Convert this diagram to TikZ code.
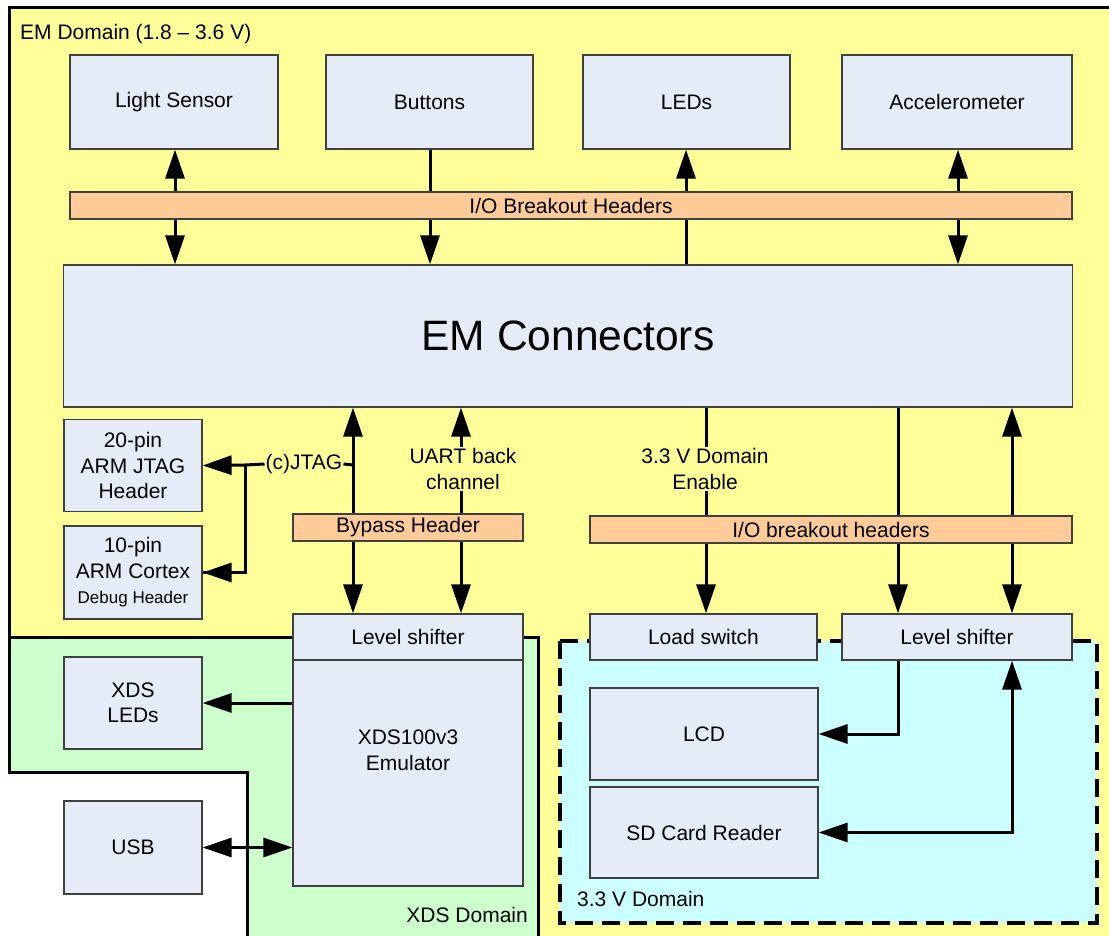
\documentclass[tikz,border=0pt]{standalone}
\usepackage{fontspec}
\setmainfont{Liberation Sans}
\usetikzlibrary{arrows.meta}

\definecolor{emyellow}{HTML}{FFFF99}
\definecolor{xdsgreen}{HTML}{CCFFCC}
\definecolor{vcyan}{HTML}{CCFFFF}
\definecolor{boxfill}{HTML}{E6ECF7}
\definecolor{hdrfill}{HTML}{FFCC99}
\definecolor{boxline}{HTML}{404040}

\tikzset{
  blk/.style={draw=boxline, fill=boxfill, line width=1.2pt, inner sep=0pt,
    align=center, font=\fontsize{21}{25.5}\selectfont},
  hdr/.style={blk, fill=hdrfill},
  lbl/.style={inner sep=1pt, align=center, font=\fontsize{21}{26}\selectfont},
  wire/.style={line width=3pt},
  arr/.style={wire, -{Triangle[length=29pt,width=19pt]}},
  darr/.style={wire, {Triangle[length=29pt,width=19pt]}-{Triangle[length=29pt,width=19pt]}},
  domline/.style={line width=3pt, line join=miter},
}

\begin{document}
\begin{tikzpicture}[x=1pt, y=-1pt]
\useasboundingbox (0,0) rectangle (1109,936);
\fill[white] (0,0) rectangle (1109,936);

% power domains
\fill[emyellow] (9,8) -- (1115,8) -- (1115,940) -- (247,940) -- (247,772) -- (9,772) -- cycle;
\fill[xdsgreen] (9,637) -- (538,637) -- (538,940) -- (247,940) -- (247,772) -- (9,772) -- cycle;
\draw[domline] (1115,8) -- (9,8) -- (9,772) -- (247,772) -- (247,940);
\draw[domline] (9,637) -- (538,637) -- (538,940);
\draw[line width=4pt, dash pattern=on 18pt off 9pt, fill=vcyan] (560,641) rectangle (1097,923);

\node[lbl, anchor=base west] (emdom) at (19,40) {EM Domain (1.8 -- 3.6 V)};
\node[lbl, anchor=base east] (xdsdom) at (529,922) {XDS Domain};
\node[lbl, anchor=base west] (vdom) at (576,906) {3.3 V Domain};

% column positions of the vertical links
\coordinate (cA) at (175,0);
\coordinate (cB) at (430,0);
\coordinate (cC) at (686,0);
\coordinate (cD) at (958,0);
\coordinate (c1) at (353,0);
\coordinate (c2) at (461,0);
\coordinate (c3) at (706,0);
\coordinate (c4) at (898,0);
\coordinate (c5) at (1012,0);

% blocks
\node[blk, minimum width=208, minimum height=94] (light) at (174,102) {Light Sensor};
\node[blk, minimum width=207, minimum height=94] (btn) at (429.5,102) {Buttons};
\node[blk, minimum width=207, minimum height=94] (leds) at (686.5,102) {LEDs};
\node[blk, minimum width=230, minimum height=94] (acc) at (957,102) {Accelerometer};
\node[blk, minimum width=1009, minimum height=142, font=\fontsize{42.5}{46}\selectfont] (em) at (568,336) {EM Connectors};

\node[blk, minimum width=138, minimum height=92] (j20) at (133,465.5) {20-pin\\ARM JTAG\\Header};
\node[blk, minimum width=138, minimum height=93] (c10) at (133,572.5) {10-pin\\ARM Cortex\\{\fontsize{17}{19}\selectfont Debug Header}};

\node[blk, minimum width=230, minimum height=46] (lsx) at (408,637) {Level shifter};
\node[blk, minimum width=230, minimum height=226] (emu) at (408,773) {};
\node[lbl] (emutxt) at (408,750) {XDS100v3\\Emulator};
\node[blk, minimum width=138, minimum height=92] (xled) at (133,703) {XDS\\LEDs};
\node[blk, minimum width=138, minimum height=93] (usb) at (133,847.5) {USB};

\node[blk, minimum width=227, minimum height=46] (lsw) at (703.5,637) {Load switch};
\node[blk, minimum width=230, minimum height=46] (ls3) at (957,637) {Level shifter};
\node[blk, minimum width=228, minimum height=92] (lcd) at (704,734) {LCD};
\node[blk, minimum width=228, minimum height=91] (sd) at (704,832.5) {SD Card Reader};

% links between the sensors and the EM connectors
\draw[darr] (light.south -| cA) -- (em.north -| cA);
\draw[arr] (btn.south -| cB) -- (em.north -| cB);
\draw[arr] (em.north -| cC) -- (leds.south -| cC);
\draw[darr] (acc.south -| cD) -- (em.north -| cD);
\node[hdr, minimum width=1002, minimum height=27] (io1) at (571,205.5) {I/O Breakout Headers};

% JTAG fan-out
\node[lbl] (cj) at (304,464) {(c)JTAG};
\coordinate (jtap) at (353,465);
\coordinate (jsplit) at (245,465);
\draw[wire] (jtap) -- (cj.east);
\draw[wire] (cj.west) -- (jsplit);
\draw[arr] (jsplit) -- (j20.east);
\draw[wire] (jsplit) |- (c10.east);
\draw[arr] (jsplit |- c10.east) -- (c10.east);

% emulator links through the bypass header
\node[lbl] (uart) at (463,469) {UART back\\channel};
\draw[darr] (em.south -| c1) -- (lsx.north -| c1);
\draw[arr] (uart.north -| c2) -- (em.south -| c2);
\draw[arr] (uart.south -| c2) -- (lsx.north -| c2);
\node[hdr, minimum width=230, minimum height=27] (byp) at (408,527.5) {Bypass Header};

% 3.3 V domain links
\node[lbl] (en) at (705,469) {3.3 V Domain\\Enable};
\draw[wire] (em.south -| c3) -- (en.north -| c3);
\draw[arr] (en.south -| c3) -- (lsw.north -| c3);
\draw[arr] (em.south -| c4) -- (ls3.north -| c4);
\draw[darr] (em.south -| c5) -- (ls3.north -| c5);
\node[hdr, minimum width=482, minimum height=27] (io2) at (831,529.5) {I/O breakout headers};

\draw[arr] (ls3.south -| c4) |- (lcd.east);
\draw[darr] (sd.east) -| (ls3.south -| c5);

% emulator side links
\draw[arr] (emu.west |- xled.east) -- (xled.east);
\draw[darr] (usb.east) -- (emu.west |- usb.east);
\end{tikzpicture}
\end{document}
